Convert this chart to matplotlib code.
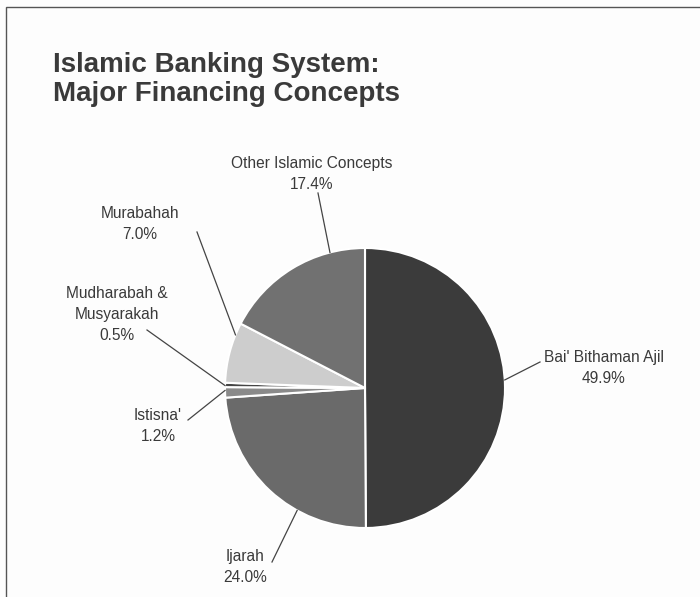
import numpy as np
import matplotlib
matplotlib.use("Agg")
import matplotlib.pyplot as plt
from matplotlib.patches import Rectangle

# data, clockwise from 12 o'clock
labels = ["Bai' Bithaman Ajil", "Ijarah", "Istisna'", "Mudharabah &\nMusyarakah",
          "Murabahah", "Other Islamic Concepts"]
shares = [49.9, 24.0, 1.2, 0.5, 7.0, 17.4]
colors = ["#3b3b3b", "#6a6a6a", "#8a8a8a", "#454545", "#cdcdcd", "#717171"]

# label layout: text centre (px, y from top) and angle where leader meets the pie
label_pos = [(604, 368), (245, 567), (158, 426), (117, 314), (140, 224), (312, 174)]
leader_from = [(540, 362), (272, 562), (188, 420), (147, 330), (197, 232), (318, 193)]
leader_ang = [3.3, -119.0, 181.0, 179.0, 157.7, 104.5]

W, H = 700, 597
cx, cy, r = 365, 388, 140

fig = plt.figure(figsize=(7, 5.97), dpi=100, facecolor="#fdfdfd")
ax = fig.add_axes([0, 0, 1, 1])

ax.add_patch(Rectangle((6, -5), W, H - 7 + 5, fill=False, edgecolor="#555555", lw=1.0))

ax.pie(shares, colors=colors, startangle=90, counterclock=False,
       center=(cx, H - cy), radius=r, frame=True,
       wedgeprops=dict(edgecolor="white", linewidth=1.5))
ax.set_xlim(0, W)
ax.set_ylim(0, H)
ax.set_aspect("equal")
ax.axis("off")

for lab, s, (tx, ty), (lx, ly), a in zip(labels, shares, label_pos, leader_from, leader_ang):
    ex = cx + r * np.cos(np.radians(a))
    ey = (H - cy) + r * np.sin(np.radians(a))
    ax.plot([lx, ex], [H - ly, ey], color="#444444", lw=0.9)
    ax.text(tx, H - ty, f"{lab}\n{s:.1f}%", ha="center", va="center",
            fontsize=11.2, family="Liberation Sans", color="#3a3a3a", linespacing=1.5)

fig.text(53 / W, 1 - 52 / H, "Islamic Banking System:\nMajor Financing Concepts",
         ha="left", va="top", fontsize=20, fontweight="bold",
         family="Liberation Sans", color="#3a3a3a", linespacing=1.15)

fig.savefig("out.png", dpi=100, facecolor=fig.get_facecolor())
